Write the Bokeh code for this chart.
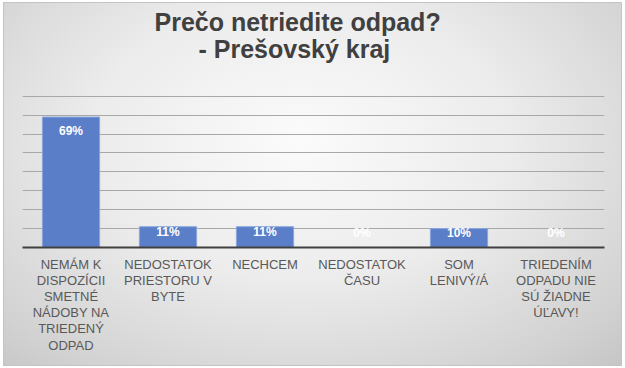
import numpy as np
from bokeh.plotting import figure
from bokeh.models import Title, FixedTicker, ColumnDataSource, Range1d, FactorRange
from bokeh.embed import file_html
from bokeh.resources import INLINE

title_line1 = "Prečo netriedite odpad?"
title_line2 = "- Prešovský kraj"
categories = [
    "NEMÁM K\nDISPOZÍCII\nSMETNÉ\nNÁDOBY NA\nTRIEDENÝ\nODPAD",
    "NEDOSTATOK\nPRIESTORU V\nBYTE",
    "NECHCEM",
    "NEDOSTATOK\nČASU",
    "SOM\nLENIVÝ/Á",
    "TRIEDENÍM\nODPADU NIE\nSÚ ŽIADNE\nÚĽAVY!",
]
values = [69, 11, 11, 0, 10, 0]
value_labels = ["69%", "11%", "11%", "0%", "10%", "0%"]
grid_ticks = [10, 20, 30, 40, 50, 60, 70, 80]
y_max = 80.4

vals = np.array(values, dtype=float)
label_y = np.where(vals > 20, vals - 7.5, np.maximum(vals - 3, 7.5))

src = ColumnDataSource(dict(cat=categories, val=values, lab=value_labels, ly=label_y))

p = figure(
    x_range=FactorRange(factors=categories, range_padding=0),
    y_range=Range1d(0, y_max),
    width=619, height=364,
    output_backend="svg", toolbar_location=None,
    min_border_left=19, min_border_right=18, min_border_top=93, min_border_bottom=119,
    border_fill_color=None, background_fill_color=None, outline_line_color=None,
)
p.styles = {
    "position": "relative", "left": "3px", "top": "2px",
    "background": "radial-gradient(ellipse 75% 85% at 48% 38%, #fbfbfb 0%, #ececec 45%, #d2d2d2 85%, #c6c6c6 100%)",
    "outline": "1px solid #c4c4c4", "outline-offset": "-1px",
}

title_style = dict(text_font="Liberation Sans", text_font_size="25px",
                   text_font_style="bold", text_color="#404040")
p.title.text = title_line1
p.title.align = "left"
p.title.offset = 132
p.title.standoff = -6
for k, v in title_style.items():
    setattr(p.title, k, v)
t2 = Title(text=title_line2, align="left", offset=176, standoff=0, **title_style)
spacer = Title(text=" ", align="left", standoff=3, **title_style)
p.above = [spacer, t2]

p.vbar(x="cat", top="val", width=0.59, source=src, fill_color="#5a7fc8", line_color="#8aa6dc", line_width=1)
p.text(x="cat", y="ly", text="lab", source=src, text_align="center", text_baseline="middle",
       text_color="white", text_font_size="12px", text_font_style="bold")

p.ygrid.ticker = FixedTicker(ticks=grid_ticks)
p.ygrid.grid_line_color = "#a8a8a8"
p.ygrid.grid_line_width = 1
p.xgrid.visible = False
p.yaxis.visible = False

ax = p.xaxis[0]
ax.axis_line_color = "#404040"
ax.axis_line_width = 2
ax.major_tick_line_color = None
ax.minor_tick_line_color = None
ax.major_label_text_font = "Liberation Sans"
ax.major_label_text_font_size = "13px"
ax.major_label_text_color = "#595959"
ax.major_label_text_line_height = 1.08
ax.major_label_standoff = 3
ax.major_label_orientation = "horizontal"

open("out.html", "w").write(file_html(p, INLINE))
